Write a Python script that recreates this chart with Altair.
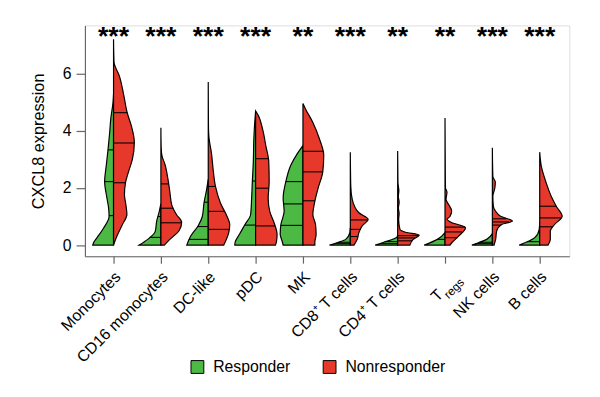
import altair as alt
import pandas as pd

categories = ["Monocytes", "CD16 monocytes", "DC-like", "pDC", "MK",
              "CD8\u207a T cells", "CD4\u207a T cells", "Tregs", "NK cells", "B cells"]
stars = ["***", "***", "***", "***", "**", "***", "**", "**", "***", "***"]
groups = ["Responder", "Nonresponder"]

# violin half profiles: (expression level, relative density width)
resp_y = [
    [0, 0.1, 0.27, 0.6, 1.0, 1.3, 1.65, 2.22, 2.8, 3.3, 3.9, 4.45, 5.0, 5.3],
    [0, 0.2, 0.48, 0.83, 1.17, 1.45],
    [0, 0.32, 0.67, 1.0, 1.47, 1.93, 2.3],
    [0, 0.1, 0.38, 0.72, 1.07, 1.64, 2.22, 2.91, 3.7, 4.06, 4.69],
    [0, 0.1, 0.38, 0.72, 1.18, 1.64, 2.22, 2.79, 3.2, 3.48],
    [0, 0.1, 0.2, 0.44, 0.6],
    [0, 0.1, 0.27, 0.35],
    [0, 0.2, 0.44],
    [0, 0.2, 0.4],
    [0, 0.26, 0.55, 0.8],
]
resp_w = [
    [21, 20, 16.5, 10, 4.5, 5, 6.7, 9, 7.3, 5.7, 4, 2.7, 0.5, 0],
    [22, 13.3, 5.7, 4.3, 1.7, 0],
    [21.7, 17.7, 10.3, 6, 4.3, 1.7, 0],
    [21, 20.7, 16.3, 10.7, 5, 4, 3.3, 2.3, 1.8, 1.3, 0],
    [20, 20.7, 23, 22.3, 19, 20, 17.3, 12.3, 5.7, 0],
    [21, 12, 4.7, 0.5, 0],
    [22.7, 14, 1, 0],
    [21, 7.7, 0],
    [20.7, 5.7, 0],
    [20.7, 5, 0.5, 0],
]
nonresp_y = [
    [0, 0.28, 0.72, 1.07, 1.4, 1.76, 2.17, 2.55, 3.0, 3.6, 4.17, 4.6, 5.3, 5.9, 6.4, 7.2],
    [0, 0.2, 0.5, 0.8, 1.07, 1.4, 1.87, 2.33, 2.8, 3.14, 3.4, 4.1],
    [0, 0.2, 0.44, 0.72, 1.0, 1.47, 2.05, 2.62, 3.2, 3.77, 4.2, 5.7],
    [0, 0.1, 0.38, 0.72, 1.18, 1.64, 2.22, 2.91, 3.48, 4.06, 4.55, 4.69],
    [0, 0.1, 0.38, 0.72, 1.07, 1.53, 1.99, 2.56, 3.14, 3.71, 4.29, 4.75, 4.95],
    [0, 0.2, 0.44, 0.67, 0.9, 1.13, 1.59, 2.05, 3.25],
    [0, 0.2, 0.35, 0.45, 0.55, 0.9, 1.1, 1.3, 1.5, 1.7, 1.9, 2.2, 3.29],
    [0, 0.1, 0.32, 0.61, 0.8, 0.9, 1.0, 1.2, 1.4, 1.6, 1.85, 2.0, 2.5, 4.44],
    [0, 0.2, 0.49, 0.72, 0.84, 1.01, 1.2, 1.36, 1.7, 2.0, 2.2, 2.4, 3.4],
    [0, 0.2, 0.49, 0.72, 1.01, 1.36, 1.7, 2.16, 2.74, 3.25],
]
nonresp_w = [
    [0, 3, 9, 13.5, 12.5, 11, 12, 15, 19, 21, 18, 14, 10, 6, 0.5, 0],
    [3.5, 9, 18.3, 21, 15.7, 11, 9, 7, 4.3, 1, 0.3, 0],
    [15.7, 18.3, 20.7, 21.7, 19, 12.3, 7.3, 5, 3.3, 0.7, 0.2, 0],
    [20, 21, 21.7, 19.3, 14.3, 12.7, 13.7, 13.3, 10.3, 7, 2.5, 0],
    [12, 12, 13.3, 12.7, 10, 12, 15.3, 20, 21, 16.7, 10, 2.7, 0],
    [3.7, 7, 8.7, 12, 18, 8.7, 2, 0.5, 0],
    [12.3, 15.7, 21.7, 8, 2.3, 1, 1.5, 0.8, 1.5, 0.7, 1.2, 0.3, 0],
    [5, 7.3, 14, 20.7, 6, 2, 5, 6.7, 4, 1, 2, 0.5, 0.3, 0],
    [1.7, 3.3, 4.3, 9.3, 20.3, 8.3, 3, 1, 0.5, 2.5, 3, 0.5, 0],
    [8.3, 10.7, 10.7, 15, 22.7, 16.7, 11.7, 6.7, 1.7, 0],
]
# quartile lines: (level, width at that level)
resp_q_y = [[1.03, 2.22, 3.33], [0.27, 1.0], [0.2, 0.65, 1.5], [0.7, 2.24],
            [0.69, 1.44, 2.22], [0.05, 0.1], [0.05, 0.12], [0.2], [0.05, 0.1], [0.12]]
resp_q_w = [[4.5, 9, 5.7], [11.5, 3], [19.5, 11, 4.2], [11, 3.3],
            [22.3, 19.5, 17.3], [16, 12], [18, 13], [7.7], [17, 13], [13]]
nonresp_q_y = [[2.18, 3.57, 4.63], [0.78, 1.29, 2.14], [0.55, 1.18, 2.05], [0.67, 1.99, 3.02],
               [1.55, 2.56, 3.28], [0.3, 0.55, 0.88], [0.15, 0.25, 0.33], [0.26, 0.46, 0.63],
               [0.7, 0.81, 0.92], [0.64, 0.95, 1.36]]
nonresp_q_w = [[12, 21, 13.8], [21, 12.5, 7.7], [21.2, 16.5, 7.3], [19.6, 13.3, 13],
               [12.1, 20, 20.5], [7.7, 10.4, 17], [14.5, 17.5, 21], [12.5, 17.5, 20.5],
               [9, 17, 14], [13.5, 21.5, 16.7]]

GREEN = "#4cb944"
RED = "#e6392b"
WSCALE = 0.46 / 22.0
FONT = "Liberation Sans"
PLOT_W, PLOT_H = 491, 234
TICK, LPAD, LOFF = 7, 11, 4

rows, qrows = [], []
for i in range(len(categories)):
    for g, ys, ws, sgn in [("Responder", resp_y[i], resp_w[i], -1),
                           ("Nonresponder", nonresp_y[i], nonresp_w[i], 1)]:
        for yv, wv in zip(ys, ws):
            rows.append({"idx": i, "group": g, "sgn": sgn, "y": yv, "w": wv,
                         "key": f"{i}-{g}"})
    for g, ys, ws, sgn in [("Responder", resp_q_y[i], resp_q_w[i], -1),
                           ("Nonresponder", nonresp_q_y[i], nonresp_q_w[i], 1)]:
        for yv, wv in zip(ys, ws):
            qrows.append({"idx": i, "sgn": sgn, "y": yv, "w": wv})

vdf = pd.DataFrame(rows)
qdf = pd.DataFrame(qrows)
sdf = pd.DataFrame({"idx": list(range(len(categories))), "stars": stars, "y": [7.0] * len(stars)})
tdf = pd.DataFrame({"idx": [categories.index("Tregs")]})

label_arr = "[" + ",".join("'" + ("" if c == "Tregs" else c) + "'" for c in categories) + "]"

XSCALE = alt.Scale(domain=[-0.604, 9.625], nice=False, zero=False)
XAXIS = alt.Axis(values=list(range(len(categories))), labelExpr=label_arr + "[datum.value]",
                 labelAngle=315, labelAlign="right", labelBaseline="middle",
                 labelFontSize=16, labelFont=FONT, labelColor="black",
                 labelOverlap=False, labelBound=False, labelFlush=False,
                 tickSize=TICK, labelPadding=LPAD, labelOffset=LOFF, grid=False, title=None,
                 domainColor="#666", tickColor="#666", domainWidth=1.2, tickWidth=1.2)
X = alt.X("x:Q", scale=XSCALE, axis=XAXIS, stack=False)
Y = alt.Y("y:Q",
          scale=alt.Scale(domain=[-0.39, 7.68], nice=False, zero=False),
          axis=alt.Axis(values=[0, 2, 4, 6], tickSize=9, labelPadding=5,
                        labelFontSize=16, labelFont=FONT, labelColor="black",
                        title="CXCL8 expression", titleFontSize=16.5, titleFont=FONT,
                        titleFontWeight="normal", titleColor="black", titlePadding=16,
                        grid=False, domainColor="#666", tickColor="#666",
                        domainWidth=1.2, tickWidth=1.2),
          stack=False)

areas = alt.Chart(vdf).mark_area(orient="horizontal", interpolate="monotone",
                                 stroke="black", strokeWidth=1.2, opacity=1).transform_calculate(
    x=f"datum.idx + datum.sgn * datum.w * {WSCALE}", x2="datum.idx"
).encode(
    x=X, x2=alt.X2("x2:Q"), y=Y,
    color=alt.Color("group:N",
                    scale=alt.Scale(domain=groups, range=[GREEN, RED]),
                    legend=alt.Legend(orient="none", legendX=106, legendY=338,
                                      direction="horizontal", title=None,
                                      symbolType="square", symbolSize=169,
                                      symbolStrokeColor="black", symbolStrokeWidth=1,
                                      labelFontSize=16, labelFont=FONT, labelColor="black",
                                      labelOffset=8, columnPadding=30, padding=0)),
    detail="key:N",
)

rules = alt.Chart(qdf).mark_rule(color="black", strokeWidth=1.1).transform_calculate(
    x=f"datum.idx + datum.sgn * datum.w * {WSCALE}", x2="datum.idx"
).encode(x=X, x2=alt.X2("x2:Q"), y=Y)

star_text = alt.Chart(sdf).mark_text(fontSize=27, fontWeight="bold", font=FONT,
                                     baseline="alphabetic", align="center", color="black"
                                     ).transform_calculate(x="datum.idx").encode(
    x=X, y=Y, text="stars:N")

# label anchor for "T_regs" (same as axis labels): shift LOFF right -> rotated frame
ax = LOFF * 0.7071
t_big = alt.Chart(tdf).mark_text(text="T", fontSize=16, font=FONT, angle=315, align="right",
                                 baseline="middle", dx=ax - 19, dy=ax + 7, color="black"
                                 ).transform_calculate(x="datum.idx").encode(
    x=X, y=alt.value(PLOT_H + TICK + LPAD))
t_small = alt.Chart(tdf).mark_text(text="regs", fontSize=12, font=FONT, angle=315, align="right",
                                   baseline="middle", dx=ax + 5, dy=ax + 14, color="black"
                                   ).transform_calculate(x="datum.idx").encode(
    x=X, y=alt.value(PLOT_H + TICK + LPAD))

chart = alt.layer(areas, rules, star_text, t_big, t_small).properties(
    width=PLOT_W, height=PLOT_H,
    padding={"left": 78, "top": 15, "right": 23, "bottom": 140},
    autosize=alt.AutoSizeParams(type="none"),
).configure_view(stroke=None).configure(background="white")

chart.save("out.html", embed_options={"renderer": "svg", "actions": False})
